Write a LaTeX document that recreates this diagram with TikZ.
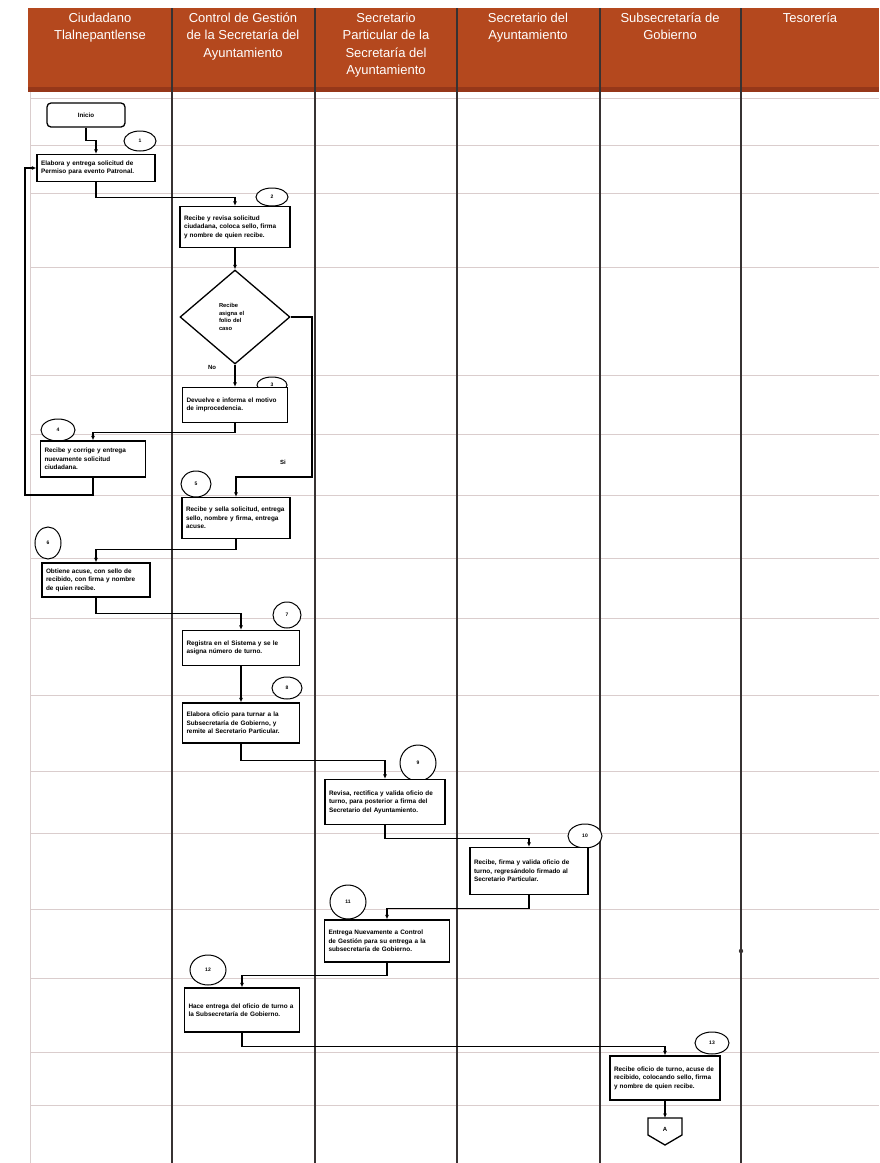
\documentclass[tikz,border=0pt]{standalone}
\usepackage{fontspec}
\setmainfont{Liberation Sans}
\usetikzlibrary{shapes.geometric,arrows.meta}
\definecolor{hdr}{RGB}{180,72,30}
\definecolor{hdrdark}{RGB}{150,55,25}
\definecolor{gridc}{RGB}{218,205,205}
\definecolor{lane}{RGB}{55,50,50}
\hyphenpenalty=10000
\exhyphenpenalty=10000
\begin{document}
\begin{tikzpicture}[x=1pt,y=-1pt,
 box/.style={draw=black, line width=1.3pt, fill=white, align=left,
   font=\fontsize{6.4}{8.6}\selectfont\bfseries, inner sep=4pt},
 num/.style={draw=black, ellipse, line width=1pt, fill=white,
   font=\fontsize{5}{6}\selectfont\bfseries, inner sep=0pt},
 arr/.style={line width=1.1pt, -{Latex[length=4.5pt,width=4pt]}},
 hd/.style={text=white, font=\fontsize{13}{17.5}\selectfont, align=center, anchor=north, inner sep=0pt},
 lbl/.style={font=\fontsize{6}{7}\selectfont\bfseries, inner sep=1pt},
 gridline/.style={draw=gridc, line width=0.9pt},
 laneline/.style={draw=lane, line width=1.2pt}]

% canvas
\fill[white] (0,0) rectangle (879,1163);
\useasboundingbox (0,0) rectangle (879,1163);

% header band
\fill[hdr] (28,8) rectangle (879,92);
\fill[hdrdark] (28,87) rectangle (879,92);

% grid
\foreach \y in {98,145,193,267,375,434,495,558,618,695,771,833,909,978,1052,1105}
  \draw[gridline] (30,\y) -- (879,\y);
\draw[gridline] (30,92) -- (30,1163);
\foreach \x in {172,315,600,741}
  \draw[laneline] (\x,8) -- (\x,1163);
\draw[laneline, line width=1.7pt] (457,8) -- (457,1163);
\fill[lane] (741,951) circle (2.2pt);

% header texts
\node[hd] (h1) at (100,12.5) {Ciudadano\\Tlalnepantlense};
\node[hd] (h2) at (243,12.5) {Control de Gestión\\de la Secretaría del\\Ayuntamiento};
\node[hd] (h3) at (386,12.5) {Secretario\\Particular de la\\Secretaría del\\Ayuntamiento};
\node[hd] (h4) at (528,12.5) {Secretario del\\Ayuntamiento};
\node[hd] (h5) at (670,12.5) {Subsecretaría de\\Gobierno};
\node[hd] (h6) at (810,12.5) {Tesorería};

% nodes
\node[draw=black, line width=1.3pt, rounded corners=4pt, fill=white, minimum width=78pt, minimum height=24pt,
      font=\fontsize{6.2}{8}\selectfont\bfseries] (ini) at (86,115) {Inicio};
\node[num, minimum width=32pt, minimum height=20pt] (n1) at (140,141) {1};
\node[box, minimum height=27pt, text width=110pt] (b1) at (96,168)
  {Elabora y entrega solicitud de Permiso para evento Patronal.};

\node[num, minimum width=32pt, minimum height=18pt] (n2) at (272,197) {2};
\node[box, minimum height=41pt, text width=102pt] (b2) at (235,227)
  {Recibe y revisa solicitud ciudadana, coloca sello, firma y nombre de quien recibe.};

\node[draw=black, diamond, line width=1.3pt, fill=white, minimum width=110pt, minimum height=94pt,
      inner sep=0pt, text width=32pt, align=left, font=\fontsize{5.8}{7.6}\selectfont\bfseries] (d) at (235,317)
  {Recibe asigna el folio del caso};
\node[lbl] (no) at (212,367) {No};
\node[lbl] (si) at (283,462) {Si};

\node[num, minimum width=30pt, minimum height=16pt] (n3) at (272,385) {3};
\node[box, minimum height=35pt, text width=97pt] (b3) at (235,405)
  {Devuelve e informa el motivo de improcedencia.};

\node[num, minimum width=34pt, minimum height=22pt] (n4) at (58,430) {4};
\node[box, minimum height=36pt, text width=97pt] (b4) at (93,459)
  {Recibe y corrige y entrega nuevamente solicitud ciudadana.};

\node[num, minimum width=30pt, minimum height=26pt] (n5) at (196,484) {5};
\node[box, minimum height=41pt, text width=100pt] (b5) at (236,518)
  {Recibe y sella solicitud, entrega sello, nombre y firma, entrega acuse.};

\node[num, minimum width=26pt, minimum height=32pt] (n6) at (48,543) {6};
\node[box, minimum height=34pt, text width=100pt] (b6) at (96,580)
  {Obtiene acuse, con sello de recibido, con firma y nombre de quien recibe.};

\node[num, minimum width=28pt, minimum height=26pt] (n7) at (287,615) {7};
\node[box, minimum height=35pt, text width=109pt] (b7) at (241,648)
  {Registra en el Sistema y se le asigna número de turno.};

\node[num, minimum width=30pt, minimum height=22pt] (n8) at (287,688) {8};
\node[box, minimum height=40pt, text width=109pt] (b8) at (241,723)
  {Elabora oficio para turnar a la Subsecretaría de Gobierno, y remite al Secretario Particular.};

\node[num, minimum width=36pt, minimum height=36pt] (n9) at (418,763) {9};
\node[box, minimum height=45pt, text width=112pt] (b9) at (385,802)
  {Revisa, rectifica y valida oficio de turno, para posterior a firma del Secretario del Ayuntamiento.};

\node[num, minimum width=34pt, minimum height=24pt] (n10) at (585,836) {10};
\node[box, minimum height=47pt, text width=110pt] (b10) at (529,871)
  {Recibe, firma y valida oficio de turno, regresándolo firmado al Secretario Particular.};

\node[num, minimum width=36pt, minimum height=34pt] (n11) at (348,902) {11};
\node[box, minimum height=42pt, text width=117pt] (b11) at (387,941)
  {Entrega Nuevamente a Control de Gestión para su entrega a la subsecretaría de Gobierno.};

\node[num, minimum width=36pt, minimum height=30pt] (n12) at (208,970) {12};
\node[box, minimum height=44pt, text width=107pt] (b12) at (242,1010)
  {Hace entrega del oficio de turno a la Subsecretaría de Gobierno.};

\node[num, minimum width=34pt, minimum height=22pt] (n13) at (712,1043) {13};
\node[box, minimum height=44pt, text width=102pt] (b13) at (665,1078)
  {Recibe oficio de turno, acuse de recibido, colocando sello, firma y nombre de quien recibe.};

% off-page connector
\coordinate (Atop) at (665,1118);
\draw[line width=1.3pt, fill=white] (648,1118) -- (682,1118) -- (682,1135) -- (665,1145) -- (648,1135) -- cycle;
\node[lbl] (A) at (665,1129) {A};

% connectors
\draw[arr] (ini.south) -- ++(0,13) -| (b1.north);
\draw[arr] (b1.south) -- ++(0,15) -| (b2.north);
\draw[arr] (b2.south) -- (d.north);
\draw[arr] (d.south) -- (b3.north);
\draw[arr] (b3.south) -- ++(0,9) -| (b4.north);
\draw[arr] (b4.south) |- (25,495) |- (b1.west);
\draw[arr] (d.east) -| (312,477) -| (b5.north);
\draw[arr] (b5.south) -- ++(0,10) -| (b6.north);
\draw[arr] (b6.south) -- ++(0,16) -| (b7.north);
\draw[arr] (b7.south) -- (b8.north);
\draw[arr] (b8.south) -- ++(0,17) -| (b9.north);
\draw[arr] (b9.south) -- ++(0,13) -| (b10.north);
\draw[arr] (b10.south) -- ++(0,13) -| (b11.north);
\draw[arr] (b11.south) -- ++(0,13) -| (b12.north);
\draw[arr] (b12.south) -- ++(0,14) -| (b13.north);
\draw[arr] (b13.south) -- (Atop);
\end{tikzpicture}
\end{document}
